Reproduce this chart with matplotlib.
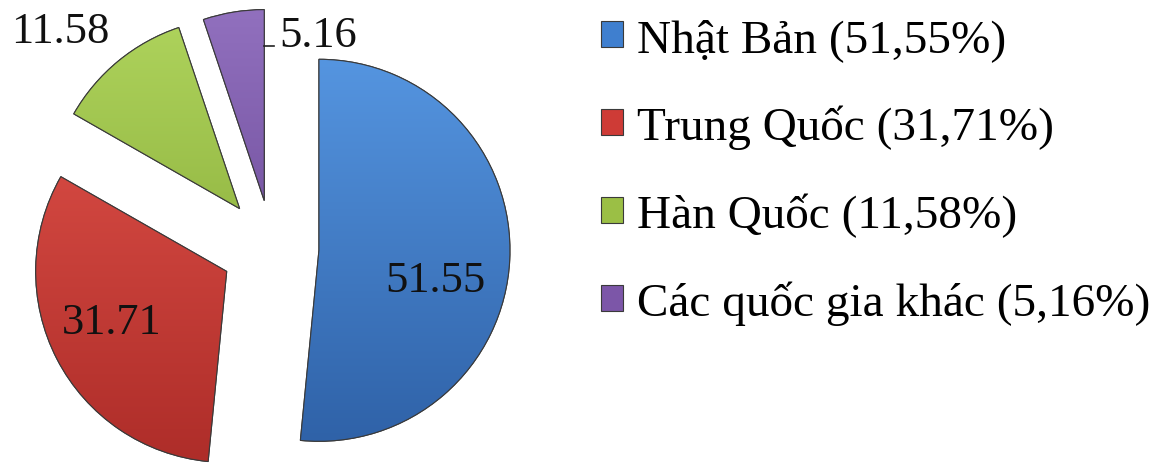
import numpy as np
import matplotlib
matplotlib.use("Agg")
import matplotlib.pyplot as plt

plt.rcParams['font.family'] = ['Liberation Serif', 'DejaVu Serif']

# --- Datos ---
paises = ["Nhật Bản", "Trung Quốc", "Hàn Quốc", "Các quốc gia khác"]
valores = [51.55, 31.71, 11.58, 5.16]

# --- Estilo ---
colores = ["#3F7FCF", "#CE3B36", "#9BBF45", "#7C56A8"]
colores_claros = ["#5595E0", "#DE5048", "#AED35C", "#9170BE"]
colores_oscuros = ["#2F62A8", "#AE2D29", "#82A532", "#62408E"]
explode = [47, 51, 51, 48]          # desplazamiento en píxeles
# posición de cada etiqueta: (distancia relativa al radio, ángulo en grados)
pos_etiquetas = [(0.63, -14.5), (0.66, 203.7), (1.32, 135.2), (0.91, 72.0)]

W, H = 1159, 464
fig = plt.figure(figsize=(W / 100, H / 100), dpi=100)
ax = fig.add_axes([0, 0, 1, 1])

radio = 191
centro = (272, H - 249)
wedges, _ = ax.pie(valores, colors=colores, startangle=90, counterclock=False,
                   explode=explode, radius=radio, center=centro,
                   wedgeprops=dict(edgecolor="#3a3a3a", linewidth=0.8))

# degradado dentro de cada sector
for w, c1, c2 in zip(wedges, colores_claros, colores_oscuros):
    cx, cy = w.center
    grad = np.linspace(0, 1, 256).reshape(-1, 1)
    cmap = matplotlib.colors.LinearSegmentedColormap.from_list("g", [c1, c2])
    im = ax.imshow(grad, cmap=cmap, origin="upper", aspect="auto",
                   extent=(cx - radio, cx + radio, cy - radio, cy + radio),
                   zorder=w.get_zorder() + 0.1)
    im.set_clip_path(w)
    borde = matplotlib.patches.Wedge(w.center, w.r, w.theta1, w.theta2,
                                     facecolor="none", edgecolor="#3a3a3a",
                                     linewidth=0.8, zorder=w.get_zorder() + 0.2)
    ax.add_patch(borde)

# etiquetas de valores
for w, v, (d, a) in zip(wedges, valores, pos_etiquetas):
    cx, cy = w.center
    tx = cx + d * radio * np.cos(np.radians(a))
    ty = cy + d * radio * np.sin(np.radians(a))
    ax.text(tx, ty, f"{v:.2f}", ha="center", va="center", fontsize=32,
            color="#111111", zorder=10)

# pequeña línea guía del último sector
w = wedges[-1]
x_borde = w.center[0] + radio * np.cos(np.radians(w.theta1))
ax.plot([x_borde, x_borde + 10], [H - 47, H - 47], color="#222222", lw=1.2, zorder=10)

# leyenda
etiquetas = [f"{p} ({v:.2f}%)".replace(".", ",") for p, v in zip(paises, valores)]
leg = ax.legend(wedges, etiquetas, loc="upper left",
                bbox_to_anchor=(601 / W, 1 - 19 / H), frameon=False,
                fontsize=34, handlelength=0.47, handleheight=0.47,
                handletextpad=0.3, labelspacing=0.92, borderpad=0,
                borderaxespad=0)

ax.set_xlim(0, W)
ax.set_ylim(0, H)
ax.set_aspect("equal")
ax.axis("off")

fig.savefig("out.png", dpi=100)
